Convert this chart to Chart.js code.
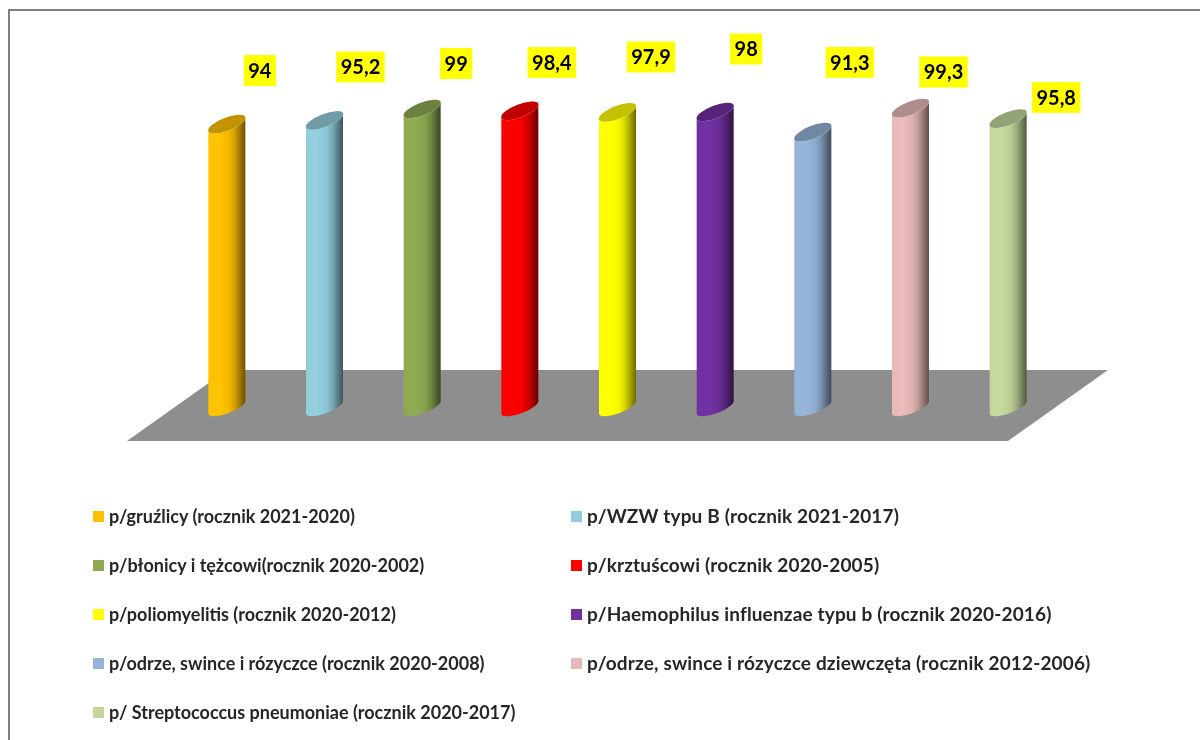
<!DOCTYPE html>
<html lang="pl">
<head>
  <meta charset="UTF-8">
  <title>Szczepienia</title>
  <script src="https://cdn.jsdelivr.net/npm/chart.js"></script>
  <style>
    body { margin: 0; background: #fff; font-family: Lato, sans-serif; }
    #wrap { position: relative; width: 1200px; height: 740px; overflow: hidden; }
    #frame { position: absolute; left: 8px; top: 9px; width: 1300px; height: 800px; border: 2px solid #7f7f7f; }
    canvas { position: absolute; left: 0; top: 0; }
    .item { position: absolute; font-size: 18px; font-weight: 700; color: #262626; line-height: 22px; white-space: nowrap; padding-left: 16px; }
    .item.right { font-size: 19px; letter-spacing: 0.15px; }
    .item i { position: absolute; left: 0; top: 6px; width: 11px; height: 11px; }
  </style>
</head>
<body>
<div id="wrap">
  <div id="frame"></div>
  <canvas id="chart" width="1200" height="740"></canvas>
  <div id="legend"></div>
</div>
<script>
const categories = [
  'p/gruźlicy (rocznik 2021-2020)',
  'p/WZW typu B (rocznik 2021-2017)',
  'p/błonicy i tężcowi(rocznik 2020-2002)',
  'p/krztuścowi (rocznik 2020-2005)',
  'p/poliomyelitis (rocznik 2020-2012)',
  'p/Haemophilus influenzae typu b (rocznik 2020-2016)',
  'p/odrze, swince i rózyczce (rocznik 2020-2008)',
  'p/odrze, swince i rózyczce dziewczęta (rocznik 2012-2006)',
  'p/ Streptococcus pneumoniae (rocznik 2020-2017)'
];
const values = [94, 95.2, 99, 98.4, 97.9, 98, 91.3, 99.3, 95.8];
const valueLabels = ['94', '95,2', '99', '98,4', '97,9', '98', '91,3', '99,3', '95,8'];
const colors = ['#ffc000', '#92cddc', '#8eaa50', '#ff0000', '#ffff00', '#7030a0', '#95b3d7', '#e6b9b8', '#c3d69b'];
// labels were moved by hand in the original: offset from the top of each bar
const labelDx = [33, 36, 34, 32, 33.5, 31, 37, 33, 48];
const labelDy = [-53.6, -53.5, -45.5, -48.3, -55.3, -63, -69.8, -36.1, -21.2];

function shade(hex, f) {
  const n = parseInt(hex.slice(1), 16);
  return 'rgb(' + [n >> 16, (n >> 8) & 255, n & 255].map(c => Math.min(255, Math.round(c * f))).join(',') + ')';
}

const tilt = -21 * Math.PI / 180;

const floorPlugin = {
  id: 'floor',
  beforeDatasetsDraw(chart) {
    const ctx = chart.ctx;
    const y0 = chart.scales.y.getPixelForValue(0);
    ctx.save();
    ctx.fillStyle = '#8e8e8e';
    ctx.beginPath();
    ctx.moveTo(127, y0 + 34);
    ctx.lineTo(1008, y0 + 34);
    ctx.lineTo(1108, y0 - 37);
    ctx.lineTo(227, y0 - 37);
    ctx.closePath();
    ctx.fill();
    ctx.restore();
  }
};

const cylinderPlugin = {
  id: 'cylinder',
  beforeDatasetDraw(chart, args) {
    const ctx = chart.ctx;
    args.meta.data.forEach((bar, i) => {
      const half = bar.width / 2;
      const rx = half / Math.cos(tilt);
      const ry = 6.5;
      const rise = half * Math.tan(-tilt);
      const grad = ctx.createLinearGradient(bar.x - half, 0, bar.x + half, 0);
      grad.addColorStop(0, shade(colors[i], 1));
      grad.addColorStop(0.3, shade(colors[i], 1.02));
      grad.addColorStop(0.55, shade(colors[i], 0.96));
      grad.addColorStop(0.72, shade(colors[i], 0.82));
      grad.addColorStop(1, shade(colors[i], 0.42));
      ctx.save();
      ctx.fillStyle = grad;
      ctx.beginPath();
      ctx.moveTo(bar.x - half, bar.y + rise);
      ctx.lineTo(bar.x - half, bar.base + rise);
      ctx.ellipse(bar.x, bar.base, rx, ry, tilt, Math.PI, 0, true);
      ctx.lineTo(bar.x + half, bar.y - rise);
      ctx.ellipse(bar.x, bar.y, rx, ry, tilt, 0, Math.PI, false);
      ctx.closePath();
      ctx.fill();
      ctx.fillStyle = shade(colors[i], 0.76);
      ctx.beginPath();
      ctx.ellipse(bar.x, bar.y, rx, ry, tilt, 0, Math.PI * 2);
      ctx.fill();
      ctx.restore();
    });
    return false; // cylinders replace the flat bars
  }
};

const labelPlugin = {
  id: 'valueBoxes',
  afterDatasetsDraw(chart) {
    const ctx = chart.ctx;
    chart.getDatasetMeta(0).data.forEach((bar, i) => {
      const cx = bar.x + labelDx[i];
      const cy = bar.y + labelDy[i];
      ctx.save();
      ctx.font = '700 20px Lato';
      const w = ctx.measureText(valueLabels[i]).width + 9;
      ctx.fillStyle = '#ffff00';
      ctx.fillRect(cx - w / 2, cy - 15.5, w, 31);
      ctx.fillStyle = '#000';
      ctx.textAlign = 'center';
      ctx.textBaseline = 'middle';
      ctx.fillText(valueLabels[i], cx, cy + 1);
      ctx.restore();
    });
  }
};

new Chart(document.getElementById('chart'), {
  type: 'bar',
  data: {
    labels: categories,
    datasets: [{ data: values, backgroundColor: colors, barThickness: 37 }]
  },
  options: {
    responsive: false,
    animation: false,
    layout: { padding: { left: 178, right: 143, top: 106, bottom: 333 } },
    plugins: { legend: { display: false }, tooltip: { enabled: false } },
    scales: {
      x: { display: false },
      y: { display: false, min: 0, max: 100 }
    }
  },
  plugins: [floorPlugin, cylinderPlugin, labelPlugin]
});

// legend: two columns, filled row by row
const legend = document.getElementById('legend');
categories.forEach((name, i) => {
  const el = document.createElement('div');
  el.className = i % 2 ? 'item right' : 'item';
  el.style.left = (i % 2 ? 571 : 93) + 'px';
  el.style.top = (505 + Math.floor(i / 2) * 49) + 'px';
  el.innerHTML = '<i style="background:' + colors[i] + '"></i>';
  el.appendChild(document.createTextNode(name));
  legend.appendChild(el);
});
</script>
</body>
</html>
